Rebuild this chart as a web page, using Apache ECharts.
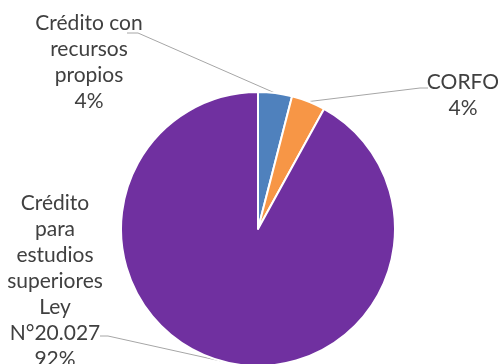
<!DOCTYPE html>
<html>
<head>
<meta charset="utf-8">
<style>
  html, body { margin: 0; padding: 0; background: #ffffff; }
  #chart { width: 498px; height: 364px; }
</style>
<script src="https://cdn.jsdelivr.net/npm/echarts@6/dist/echarts.min.js"></script>
</head>
<body>
<div id="chart"></div>
<script>
// Financing sources (share of total, %)
const categories = [
  'Crédito con recursos propios',
  'CORFO',
  'Crédito para estudios superiores Ley N°20.027'
];
const labelLines = [
  ['Crédito con', 'recursos', 'propios'],
  ['CORFO'],
  ['Crédito', 'para', 'estudios', 'superiores', 'Ley', 'N°20.027']
];
const shares = [4, 4, 92];
const colors = ['#4F81BD', '#F79646', '#7030A0'];

// label block centres, and where each leader line leaves its label
// (offset from the centre, then a short horizontal elbow)
const labelCentres = [[89, 62], [463, 95], [55, 281]];
const leaderStart = [[38, -29], [-35, -7], [45, 55]];
const leaderElbow = [11, -8, 8];

const chart = echarts.init(document.getElementById('chart'));
chart.setOption({
  animation: false,
  series: [{
    type: 'pie',
    center: [258, 229],
    radius: 137,
    startAngle: 90,
    clockwise: true,
    data: categories.map((name, i) => ({
      name,
      value: shares[i],
      itemStyle: { color: colors[i] }
    })),
    itemStyle: { borderColor: '#ffffff', borderWidth: 2 },
    label: {
      show: true,
      formatter: p => labelLines[p.dataIndex].join('\n') + '\n' + p.value + '%',
      fontFamily: 'Lato',
      fontSize: 21,
      lineHeight: 26,
      color: '#404040',
      align: 'center'
    },
    labelLine: {
      show: true,
      length: 10,
      length2: 10,
      lineStyle: { color: '#A6A6A6', width: 1 }
    },
    labelLayout: p => {
      const i = p.dataIndex;
      const [cx, cy] = labelCentres[i];
      const sx = cx + leaderStart[i][0];
      const sy = cy + leaderStart[i][1];
      // the pie's own leader starts on the slice edge at its mid-angle
      const anchor = p.labelLinePoints ? p.labelLinePoints[0] : [sx, sy];
      return {
        x: cx,
        y: cy,
        align: 'center',
        verticalAlign: 'middle',
        labelLinePoints: [[sx, sy], [sx + leaderElbow[i], sy], [anchor[0], anchor[1]]]
      };
    },
    emphasis: { disabled: true }
  }]
});
</script>
</body>
</html>
